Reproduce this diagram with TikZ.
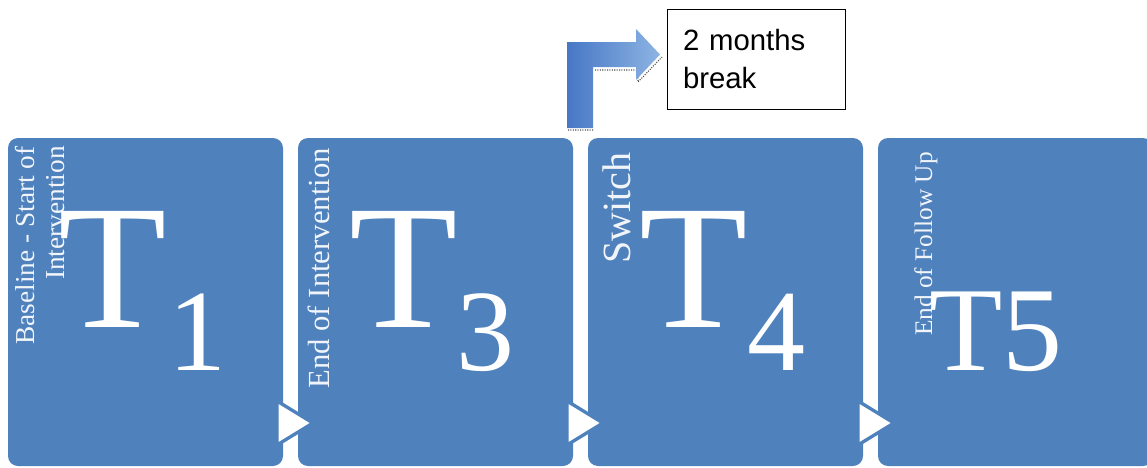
\documentclass[tikz,border=0pt]{standalone}
\usepackage{fontspec}
\setmainfont{Liberation Serif}
\newfontfamily\notefont{Liberation Sans}
\begin{document}
\begin{tikzpicture}[x=0.75pt,y=-0.75pt]
\definecolor{boxblue}{HTML}{4F81BD}
\definecolor{arrowdark}{HTML}{4777C6}
\definecolor{arrowlight}{HTML}{8DB4E3}
\tikzset{
  stage/.style={fill=boxblue, draw=none, rounded corners=7.5pt,
    minimum width=206.25pt, minimum height=246pt, inner sep=0pt, outer sep=0pt},
  caption/.style={text=white!92!boxblue, rotate=90, inner sep=0pt, anchor=base east},
  bigletter/.style={text=white, inner sep=0pt, anchor=base,
    font=\fontsize{133}{133}\selectfont},
  subletter/.style={text=white, inner sep=0pt, anchor=base,
    font=\fontsize{87}{87}\selectfont},
  chevron/.style={fill=white, draw=boxblue, line width=2.5pt, line join=miter},
  notebox/.style={draw=black, line width=0.75pt, fill=white, align=left,
    text width=109.5pt, inner xsep=12pt, minimum height=75pt,
    font=\notefont\fontsize{22}{28.5}\selectfont},
}
\useasboundingbox (0,0) rectangle (1147,468);
\clip (0,0) rectangle (1147,468);

% four stage boxes
\node[stage] (b1) at (145.5,302) {};
\node[stage] (b2) at (435.5,302) {};
\node[stage] (b3) at (725.5,302) {};
\node[stage] (b4) at (1015.5,302) {};

% chevrons between the stages
\path[chevron] (277,401) -- (313,423) -- (277,445) -- cycle;
\path[chevron] (567,401) -- (603,423) -- (567,445) -- cycle;
\path[chevron] (858,401) -- (894,423) -- (858,445) -- cycle;

% rotated stage captions
\node[caption, font=\fontsize{20.5}{22}\selectfont] (c1a) at (35,146) {Baseline - Start of};
\node[caption, font=\fontsize{20.5}{22}\selectfont] (c1b) at (64,146) {Intervention};
\node[caption, font=\fontsize{23}{24}\selectfont] (c2) at (329,148) {End of Intervention};
\node[caption, font=\fontsize{30}{32}\selectfont] (c3) at (630,152) {Switch};
\node[caption, font=\fontsize{19}{20}\selectfont] (c4) at (932,152) {End of Follow Up};

% stage labels
\node[bigletter] (t1) at (112.5,327) {T};
\node[subletter] (s1) at (197.5,370) {1};
\node[bigletter] (t3) at (403.5,327) {T};
\node[subletter] (s3) at (485,370) {3};
\node[bigletter] (t4) at (693.5,327) {T};
\node[subletter] (s4) at (776,370) {4};
\node[text=white, inner sep=0pt, anchor=base, font=\fontsize{90}{90}\selectfont] (t5) at (996,370) {T5};

% bent arrow towards the break note
\draw[densely dotted, gray!60!black, line width=0.8pt]
  (568,130) -- (593,130)
  (595,70) -- (638,70) -- (638,82) -- (662,57);
\shade[left color=arrowdark, right color=arrowlight]
  (567,128) -- (567,42) -- (636,42) -- (636,29) -- (660,54.5)
  -- (636,80) -- (636,67) -- (593,67) -- (593,128) -- cycle;

% break note
\node[notebox] (brk) at (756,59) {2 months\\break};
\end{tikzpicture}
\end{document}
